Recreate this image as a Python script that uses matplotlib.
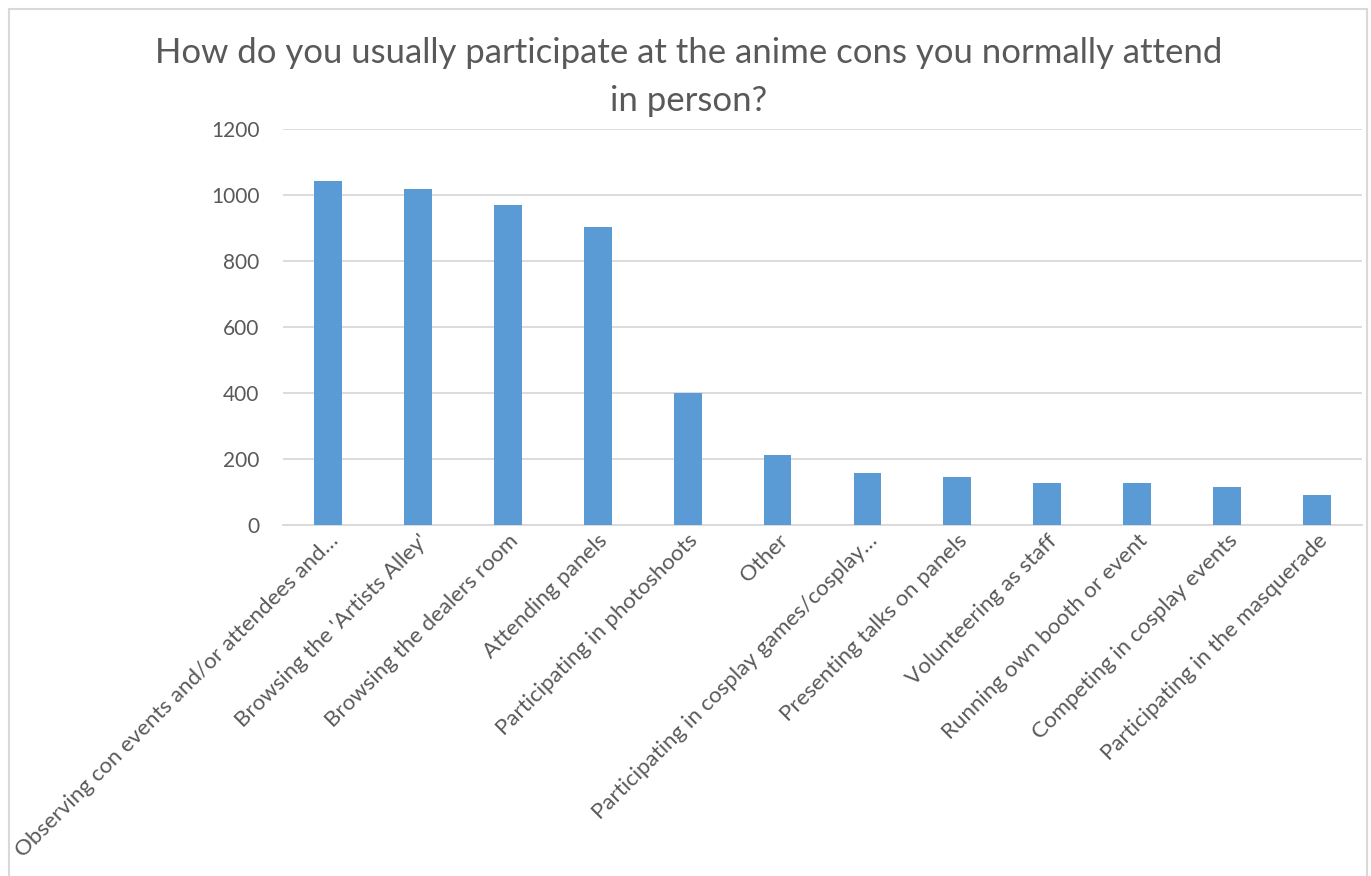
import matplotlib
matplotlib.use("Agg")
import matplotlib.pyplot as plt
from matplotlib.patches import Rectangle

categories = [
    "Observing con events and/or attendees and\u2026",
    "Browsing the 'Artists Alley'",
    "Browsing the dealers room",
    "Attending panels",
    "Participating in photoshoots",
    "Other",
    "Participating in cosplay games/cosplay\u2026",
    "Presenting talks on panels",
    "Volunteering as staff",
    "Running own booth or event",
    "Competing in cosplay events",
    "Participating in the masquerade",
]
values = [1042, 1019, 970, 903, 401, 212, 157, 146, 128, 126, 115, 91]
yticks = [0, 200, 400, 600, 800, 1000, 1200]
title = "How do you usually participate at the anime cons you normally attend\nin person?"

plt.rcParams['font.family'] = ['Lato', 'DejaVu Sans']
W, H = 1371, 876
fig = plt.figure(figsize=(W / 100, H / 100), dpi=100)
fig.patches.append(Rectangle((9 / W, -0.01), (1367 - 9) / W, 1 - 9 / H + 0.01,
                             transform=fig.transFigure, fill=False,
                             edgecolor='#d9d9d9', linewidth=1.5))

ax = fig.add_axes([283 / W, 1 - 525 / H, (1362 - 283) / W, (525 - 129) / H])
x = list(range(len(categories)))
ax.bar(x, values, width=0.31, color='#5b9bd5', zorder=3)
ax.set_xlim(-0.5, len(categories) - 0.5)
ax.set_ylim(0, 1200)
ax.set_yticks(yticks)
ax.set_yticklabels([str(v) for v in yticks], fontsize=15, color='#595959')
ax.yaxis.grid(True, color='#d9d9d9', linewidth=1.3, zorder=0)
ax.tick_params(axis='y', length=0, pad=17)
ax.tick_params(axis='x', length=0, pad=4)
ax.set_xticks(x)
ax.set_xticklabels(categories, rotation=45, ha='right', rotation_mode='anchor',
                   fontsize=16, color='#595959')
for s in ['top', 'right', 'left']:
    ax.spines[s].set_visible(False)
ax.spines['bottom'].set_color('#d9d9d9')
ax.spines['bottom'].set_linewidth(1.3)

fig.text(689 / W, 1 - 77 / H, title, ha='center', va='center', fontsize=25,
         color='#595959', linespacing=1.58)

fig.savefig('out.png', dpi=100)
